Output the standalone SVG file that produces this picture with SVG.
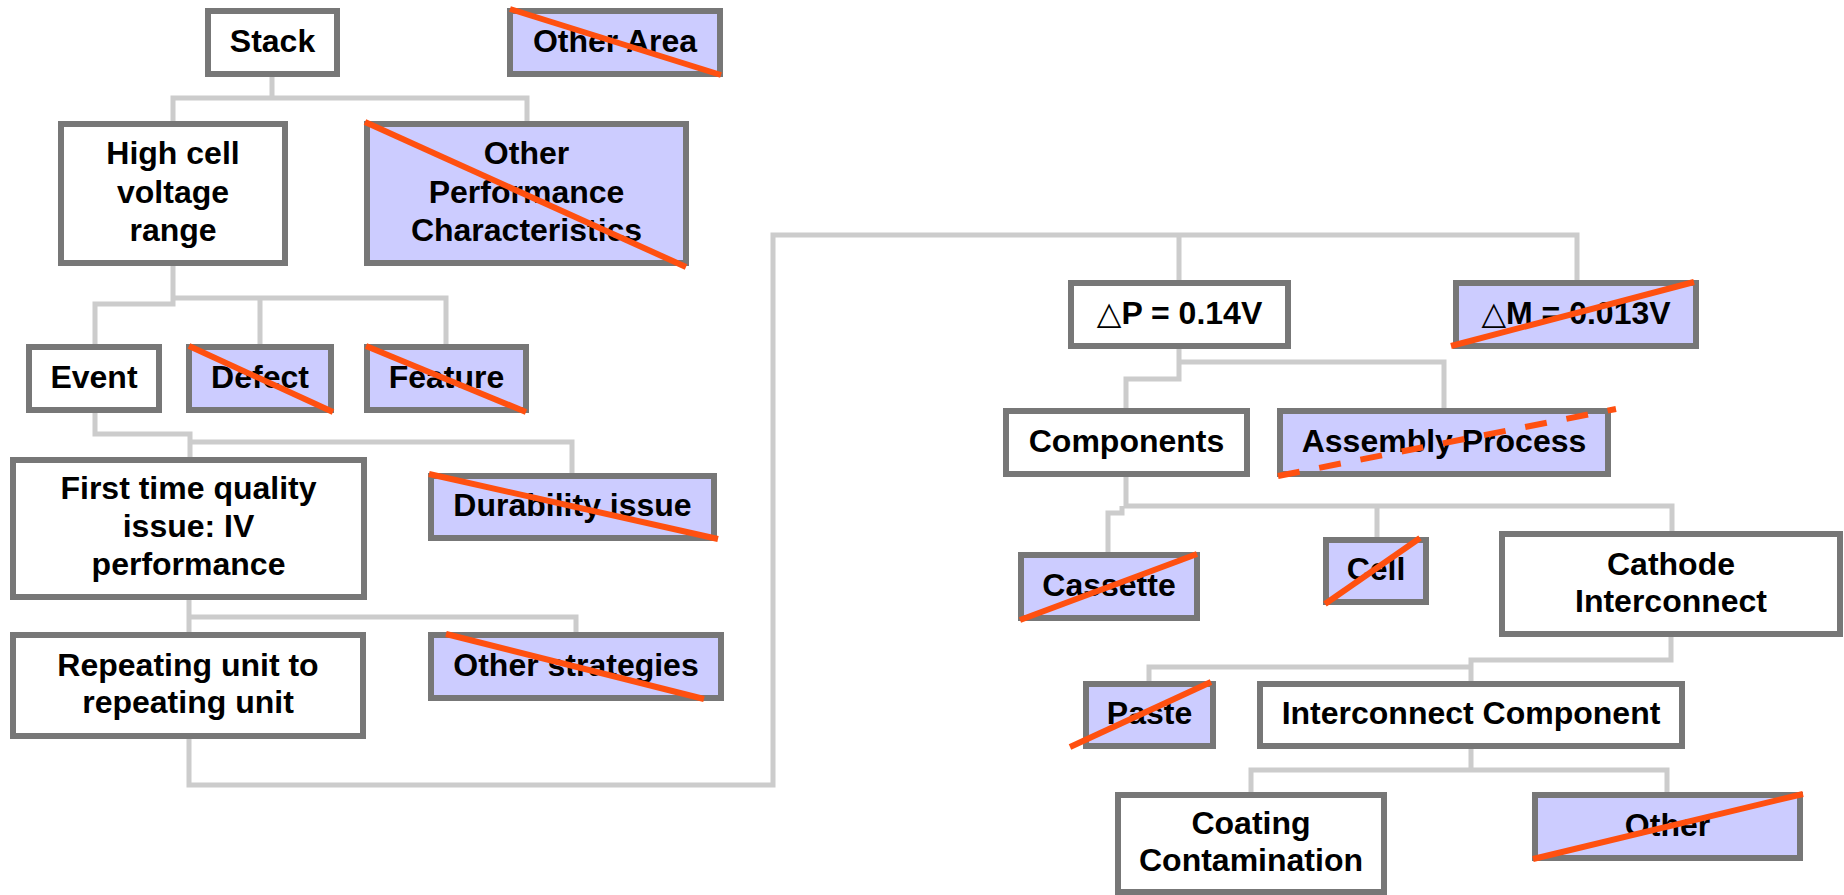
<svg xmlns="http://www.w3.org/2000/svg" width="1844" height="895" viewBox="0 0 1844 895">
<style>
.box{stroke:#777777;stroke-width:6}
.w{fill:#ffffff}
.p{fill:#ccccff}
.x{stroke:#ff5010;stroke-width:6;fill:none}
.xd{stroke:#ff5010;stroke-width:6;fill:none;stroke-dasharray:22 20}
.conn{fill:none;stroke:#cccccc;stroke-width:5}
text{font-family:"Liberation Sans",Arial,"DejaVu Sans",sans-serif;font-weight:bold;font-size:32px;text-anchor:middle;fill:#000}
</style>
<rect width="1844" height="895" fill="#ffffff"/>
<g id="connectors">
<path class="conn" d="M272,77 V98 M173,121 V98 H527 V121"/>
<path class="conn" d="M173,266 V298 H446 V344 M260,298 V344 M173,298 V304 H95 V344"/>
<path class="conn" d="M95,413 V434 H190 V457 M190,442 H572 V473"/>
<path class="conn" d="M189,600 V632 M189,617 H576 V632"/>
<path class="conn" d="M189,739 V785 H773 V235 H1577 V280 M1179,235 V280"/>
<path class="conn" d="M1179,349 V362 H1444 V408 M1179,362 V379 H1126 V408"/>
<path class="conn" d="M1126,477 V506 H1672 V531 M1377,506 V537 M1122,506 V513 H1108 V552"/>
<path class="conn" d="M1671,637 V660 H1471 V681 M1471,667 H1149 V681"/>
<path class="conn" d="M1471,749 V770 M1251,792 V770 H1667 V792"/>
</g>
<g id="stack"><rect class="box w" x="208" y="11" width="129" height="63"/><text x="272.5" y="52">Stack</text></g>
<g id="other-area"><rect class="box p" x="510" y="11" width="210" height="63"/><text x="615" y="52">Other Area</text><line class="x" x1="510" y1="9" x2="721" y2="75"/></g>
<g id="high-cell"><rect class="box w" x="61" y="124" width="224" height="139"/><text x="173" y="164">High cell</text><text x="173" y="202.5">voltage</text><text x="173" y="241">range</text></g>
<g id="other-perf"><rect class="box p" x="367" y="124" width="319" height="139"/><text x="526.5" y="164">Other</text><text x="526.5" y="202.5">Performance</text><text x="526.5" y="241">Characteristics</text><line class="x" x1="365" y1="122" x2="686" y2="267"/></g>
<g id="event"><rect class="box w" x="29" y="347" width="130" height="63"/><text x="94" y="388">Event</text></g>
<g id="defect"><rect class="box p" x="189" y="347" width="142" height="63"/><text x="260" y="388">Defect</text><line class="x" x1="189" y1="346" x2="333" y2="412"/></g>
<g id="feature"><rect class="box p" x="367" y="347" width="159" height="63"/><text x="446.5" y="388">Feature</text><line class="x" x1="366" y1="346" x2="526" y2="412"/></g>
<g id="first-time"><rect class="box w" x="13" y="460" width="351" height="137"/><text x="188.5" y="499">First time quality</text><text x="188.5" y="537">issue: IV</text><text x="188.5" y="575">performance</text></g>
<g id="durability"><rect class="box p" x="431" y="476" width="283" height="62"/><text x="572.5" y="516">Durability issue</text><line class="x" x1="429" y1="474" x2="718" y2="539"/></g>
<g id="repeating"><rect class="box w" x="13" y="635" width="350" height="101"/><text x="188" y="676">Repeating unit to</text><text x="188" y="713">repeating unit</text></g>
<g id="other-strategies"><rect class="box p" x="431" y="635" width="290" height="63"/><text x="576" y="676">Other strategies</text><line class="x" x1="446" y1="634" x2="704" y2="699"/></g>
<g id="delta-p"><rect class="box w" x="1071" y="283" width="217" height="63"/><text x="1179.5" y="324">△P = 0.14V</text></g>
<g id="delta-m"><rect class="box p" x="1456" y="283" width="240" height="63"/><text x="1576" y="324">△M = 0.013V</text><line class="x" x1="1451" y1="346" x2="1694" y2="282"/></g>
<g id="components"><rect class="box w" x="1006" y="411" width="241" height="63"/><text x="1126.5" y="452">Components</text></g>
<g id="assembly"><rect class="box p" x="1280" y="411" width="328" height="63"/><text x="1444" y="452">Assembly Process</text><line class="xd" x1="1278" y1="476" x2="1616" y2="409"/></g>
<g id="cassette"><rect class="box p" x="1021" y="555" width="176" height="63"/><text x="1109" y="596">Cassette</text><line class="x" x1="1020" y1="620" x2="1197" y2="554"/></g>
<g id="cell"><rect class="box p" x="1326" y="540" width="100" height="62"/><text x="1376" y="580">Cell</text><line class="x" x1="1325" y1="604" x2="1420" y2="538"/></g>
<g id="cathode"><rect class="box w" x="1502" y="534" width="338" height="100"/><text x="1671" y="574.5">Cathode</text><text x="1671" y="611.5">Interconnect</text></g>
<g id="paste"><rect class="box p" x="1086" y="684" width="127" height="62"/><text x="1149.5" y="724">Paste</text><line class="x" x1="1070" y1="747" x2="1211" y2="682"/></g>
<g id="interconnect-component"><rect class="box w" x="1260" y="684" width="422" height="62"/><text x="1471" y="724">Interconnect Component</text></g>
<g id="coating"><rect class="box w" x="1118" y="795" width="266" height="97"/><text x="1251" y="834">Coating</text><text x="1251" y="871">Contamination</text></g>
<g id="other"><rect class="box p" x="1535" y="795" width="265" height="63"/><text x="1667.5" y="836">Other</text><line class="x" x1="1533" y1="859" x2="1803" y2="794"/></g>
</svg>
